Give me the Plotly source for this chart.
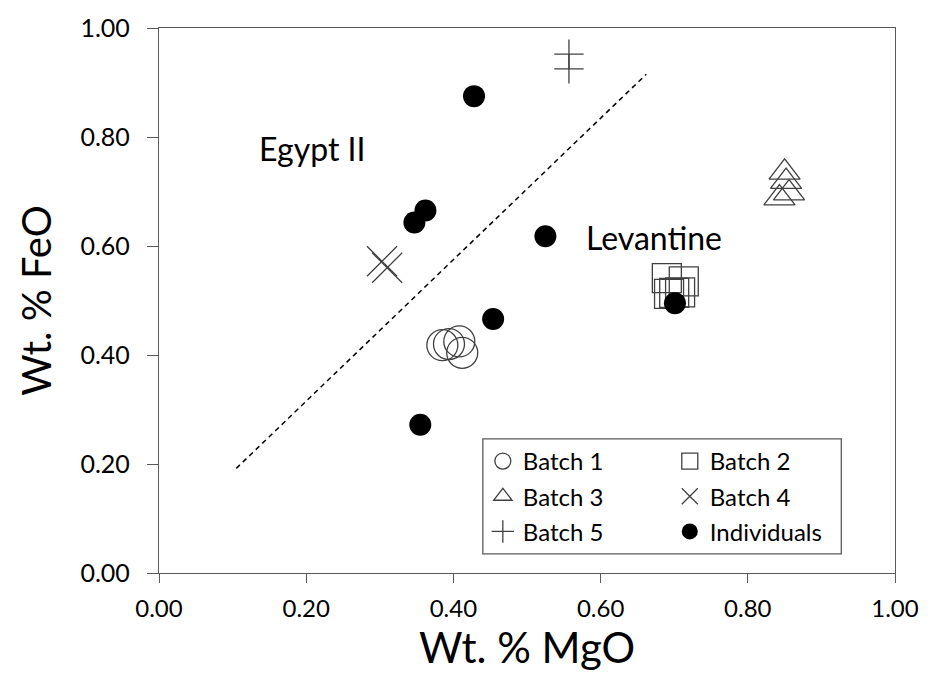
import plotly.graph_objects as go

# ---- data ----
batch1_x = [0.385, 0.394, 0.408, 0.412]
batch1_y = [0.418, 0.420, 0.425, 0.404]
batch2_x = [0.690, 0.713, 0.693, 0.700, 0.708]
batch2_y = [0.541, 0.535, 0.512, 0.514, 0.515]
batch3_x = [0.850, 0.852, 0.843, 0.856]
batch3_y = [0.735, 0.718, 0.688, 0.697]
batch4_x = [0.303, 0.310]
batch4_y = [0.572, 0.560]
batch5_x = [0.557, 0.557]
batch5_y = [0.952, 0.925]
indiv_x = [0.428, 0.362, 0.347, 0.525, 0.454, 0.701, 0.355]
indiv_y = [0.875, 0.665, 0.643, 0.618, 0.466, 0.495, 0.272]
divider_x = [0.105, 0.662]
divider_y = [0.192, 0.915]
tick_vals = [0, 0.2, 0.4, 0.6, 0.8, 1.0]
tick_text = ["0.00", "0.20", "0.40", "0.60", "0.80", "1.00"]

FONT = "Lato"
GRAY = "#404040"
AX = "#595959"

fig = go.Figure()

fig.add_trace(go.Scatter(x=divider_x, y=divider_y, mode="lines",
                         line=dict(color="black", width=1.5, dash="5px,4px"),
                         showlegend=False, hoverinfo="skip"))

def add(name, xs, ys, symbol, size, legend, color=GRAY, lw=1.3):
    fig.add_trace(go.Scatter(
        x=xs, y=ys, mode="markers", name=name, legend=legend, legendgroup=name,
        marker=dict(symbol=symbol, size=size, color=color,
                    line=dict(color=color, width=lw))))

add("Batch 1", batch1_x, batch1_y, "circle-open", 31, "legend")
add("Batch 2", batch2_x, batch2_y, "square-open", 29, "legend2")
add("Batch 3", batch3_x, batch3_y, "triangle-up-open", 27, "legend")
add("Batch 4", batch4_x, batch4_y, "x-thin-open", 30, "legend2")
add("Batch 5", batch5_x, batch5_y, "cross-thin-open", 21, "legend")
add("Individuals", indiv_x, indiv_y, "circle", 22, "legend2", color="black", lw=0)

axis_common = dict(range=[0, 1], tickvals=tick_vals, ticktext=tick_text,
                   showgrid=False, zeroline=False, showline=True, mirror=True,
                   linecolor=AX, linewidth=1.3, ticks="outside", tickcolor=AX,
                   tickwidth=1.2)

legend_common = dict(font=dict(family=FONT, size=24, color="black"),
                     bgcolor="rgba(0,0,0,0)", borderwidth=0, tracegroupgap=1,
                     xanchor="left", yanchor="top", itemsizing="trace")

fig.update_layout(
    width=931, height=673,
    margin=dict(l=159, r=29, t=25, b=100),
    paper_bgcolor="white", plot_bgcolor="white",
    font=dict(family=FONT, color="black"),
    xaxis=dict(**axis_common, ticklen=9, ticklabelstandoff=5,
               tickfont=dict(family=FONT, size=24, color="black"),
               title=dict(text="Wt. % MgO", font=dict(family=FONT, size=42), standoff=8)),
    xaxis2=dict(overlaying="x", anchor="y", range=[0, 1], tickvals=tick_vals,
                ticks="inside", ticklen=8, tickcolor=AX, tickwidth=1.2,
                showticklabels=False, showline=False, showgrid=False, zeroline=False),
    yaxis=dict(**axis_common, ticklen=11, ticklabelstandoff=12,
               tickfont=dict(family=FONT, size=25, color="black"),
               title=dict(text="Wt. % FeO", font=dict(family=FONT, size=40), standoff=16)),
    legend=dict(**legend_common, x=0.44, y=0.246),
    legend2=dict(**legend_common, x=0.694, y=0.246),
    shapes=[dict(type="rect", xref="paper", yref="paper", x0=0.44, x1=0.927,
                 y0=0.035, y1=0.246, line=dict(color=AX, width=1.3))],
    annotations=[
        dict(text="Egypt II", x=0.208, y=0.778, xref="x", yref="y", showarrow=False,
             font=dict(family=FONT, size=32, color="black")),
        dict(text="Levantine", x=0.672, y=0.615, xref="x", yref="y", showarrow=False,
             font=dict(family=FONT, size=32, color="black")),
    ],
)

fig.write_html("out.html", config={"displayModeBar": False},
               post_script="document.body.style.margin='0';")
